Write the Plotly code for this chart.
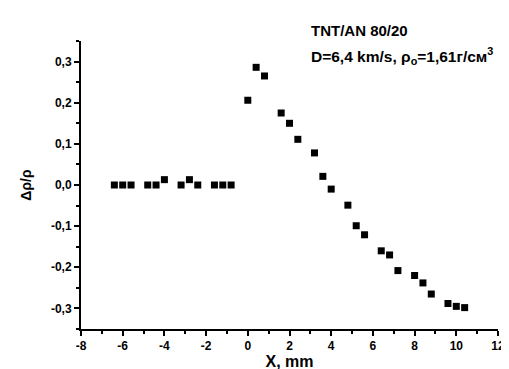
import plotly.graph_objects as go

x_mm = [-6.4, -6.0, -5.6, -4.8, -4.4, -4.0, -3.2, -2.8, -2.4, -1.6, -1.2, -0.8,
        0.0, 0.4, 0.8, 1.6, 2.0, 2.4, 3.2, 3.6, 4.0, 4.8, 5.2, 5.6,
        6.4, 6.8, 7.2, 8.0, 8.4, 8.8, 9.6, 10.0, 10.4]
drho = [0.0, 0.0, 0.0, 0.0, 0.0, 0.013, 0.0, 0.013, 0.0, 0.0, 0.0, 0.0,
        0.206, 0.286, 0.265, 0.175, 0.150, 0.111, 0.078, 0.021, -0.010, -0.049, -0.099, -0.121,
        -0.160, -0.170, -0.208, -0.220, -0.238, -0.265, -0.288, -0.295, -0.298]

x_ticks = [-8, -6, -4, -2, 0, 2, 4, 6, 8, 10, 12]
x_tick_labels = ["-8", "-6", "-4", "-2", "0", "2", "4", "6", "8", "10", "12"]
y_ticks = [-0.3, -0.2, -0.1, 0.0, 0.1, 0.2, 0.3]
y_tick_labels = ["-0,3", "-0,2", "-0,1", "0,0", "0,1", "0,2", "0,3"]

X_RANGE = [-8, 12]
Y_RANGE = [-0.35, 0.35]
FONT = "Liberation Sans, Arial, sans-serif"

fig = go.Figure()
fig.add_trace(go.Scatter(
    x=x_mm, y=drho, mode="markers",
    marker=dict(symbol="square", size=7, color="black", line=dict(width=0)),
    showlegend=False, cliponaxis=False,
))

fig.update_xaxes(
    range=X_RANGE, showgrid=False, zeroline=False,
    showline=True, linecolor="#000000", linewidth=2,
    ticks="outside", ticklen=5, tickwidth=2, tickcolor="#000000",
    tickmode="array", tickvals=x_ticks, ticktext=["<b>%s</b>" % t for t in x_tick_labels],
    tickfont=dict(family=FONT, size=12, color="#000000"),
    minor=dict(ticks="outside", dtick=1, ticklen=3, tickwidth=1.5, tickcolor="#000000", showgrid=False),
    title=dict(text="<b>X, mm</b>", font=dict(family=FONT, size=16), standoff=0),
)
fig.update_yaxes(
    range=Y_RANGE, showgrid=False, zeroline=False,
    showline=True, linecolor="#000000", linewidth=2,
    ticks="outside", ticklen=5, tickwidth=2, tickcolor="#000000",
    tickmode="array", tickvals=y_ticks, ticktext=["<b>%s</b>" % t for t in y_tick_labels],
    tickfont=dict(family=FONT, size=12, color="#000000"),
    minor=dict(ticks="outside", dtick=0.05, ticklen=3, tickwidth=1.5, tickcolor="#000000", showgrid=False),
    title=dict(text="<b>Δρ/ρ</b>", font=dict(family=FONT, size=14), standoff=16),
)

fig.update_layout(
    width=509, height=369,
    margin=dict(l=73, r=16, t=33, b=42),
    paper_bgcolor="white", plot_bgcolor="white",
    font=dict(family=FONT, color="black"),
    annotations=[
        dict(text="<b>TNT/AN 80/20</b>", xref="paper", yref="paper",
             x=(303 - 73) / 420, y=(327 - 22) / 294, xanchor="left", yanchor="middle",
             showarrow=False, font=dict(family=FONT, size=15)),
        dict(text="<b>D=6,4 km/s, ρ<sub>o</sub>=1,61г/см<sup>3</sup></b>", xref="paper", yref="paper",
             x=(303 - 73) / 420, y=(327 - 48) / 294, xanchor="left", yanchor="middle",
             showarrow=False, font=dict(family=FONT, size=15.5)),
    ],
)

fig.write_html("out.html")
